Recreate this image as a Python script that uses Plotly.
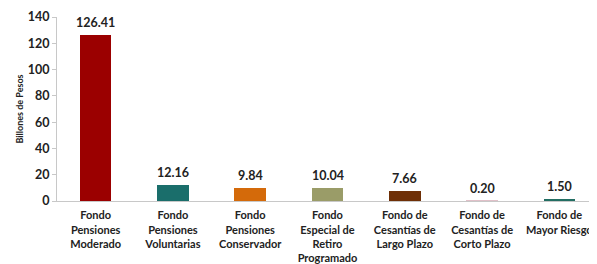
import plotly.graph_objects as go

categories = [
    "Fondo<br>Pensiones<br>Moderado",
    "Fondo<br>Pensiones<br>Voluntarias",
    "Fondo<br>Pensiones<br>Conservador",
    "Fondo<br>Especial de<br>Retiro<br>Programado",
    "Fondo de<br>Cesantías de<br>Largo Plazo",
    "Fondo de<br>Cesantías de<br>Corto Plazo",
    "Fondo de<br>Mayor Riesgo",
]
values = [126.41, 12.16, 9.84, 10.04, 7.66, 0.20, 1.50]
colors = ["#9B0000", "#1A6E6B", "#D46A0A", "#9A9C68", "#6E2F06", "#E0C0C8", "#236E63"]
y_ticks = [0, 20, 40, 60, 80, 100, 120, 140]

fig = go.Figure(go.Bar(
    x=categories,
    y=values,
    marker=dict(color=colors, line=dict(width=0)),
    width=0.41,
    hoverinfo="x+y",
))

for c, v in zip(categories, values):
    fig.add_annotation(
        x=c, y=v, text=f"{v:.2f}", showarrow=False,
        yanchor="bottom", yshift=3,
        font=dict(family="Lato", size=12.5, color="#222222", weight="bold"),
    )

# page body has an 8px default margin; offsets compensate for it
fig.update_layout(
    width=597, height=264,
    margin=dict(l=49, r=7, t=9, b=71),
    paper_bgcolor="white", plot_bgcolor="white",
    showlegend=False,
    font=dict(family="Lato", color="#222222"),
    bargap=0,
)
fig.update_xaxes(
    showline=True, linecolor="#C8C8C8", linewidth=1,
    showgrid=False, ticks="", automargin=False, ticklabelstandoff=4,
    tickfont=dict(family="Lato", size=11, color="#222222", weight="bold"),
)
fig.update_yaxes(
    range=[0, 140], tickvals=y_ticks, automargin=False,
    showline=True, linecolor="#C8C8C8", linewidth=1,
    showgrid=False, ticks="outside", ticklen=4, tickcolor="#C8C8C8",
    tickfont=dict(family="Lato", size=12.5, color="#222222", weight="bold"),
    title=dict(text="Billones de Pesos", font=dict(family="Lato", size=9, color="#222222", weight="bold"), standoff=2),
    zeroline=False,
)

fig.write_html("out.html")
